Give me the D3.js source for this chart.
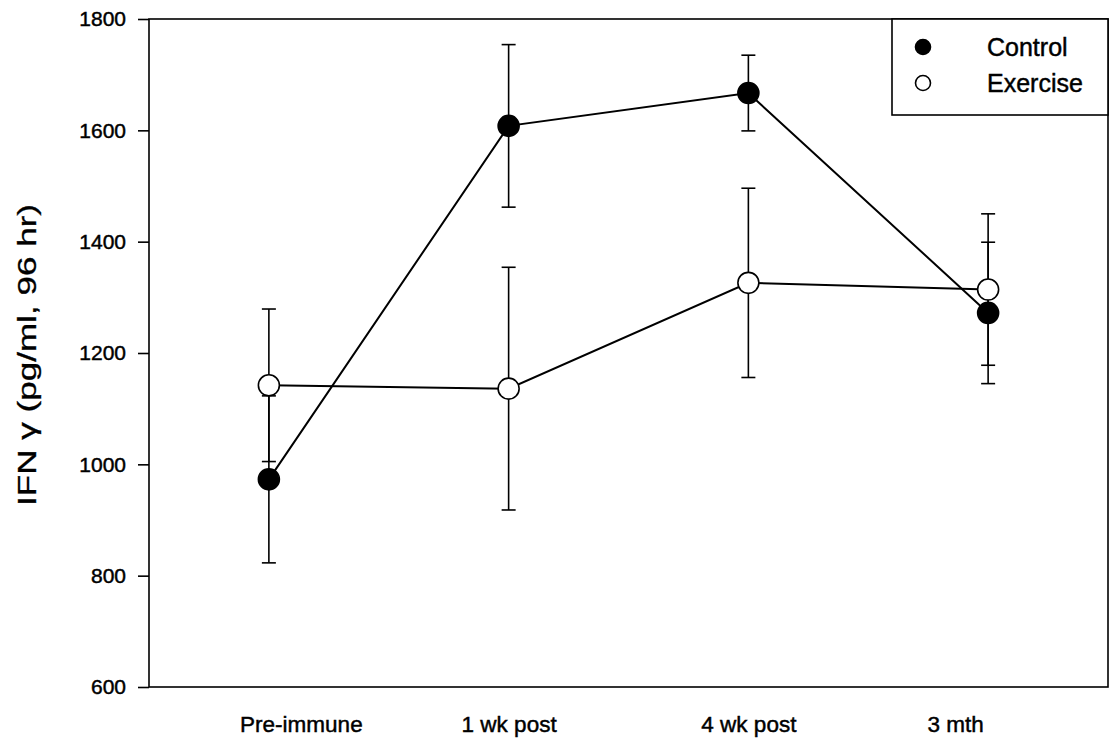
<!DOCTYPE html>
<html>
<head>
<meta charset="utf-8">
<script src="https://cdn.jsdelivr.net/npm/d3@7"></script>
<style>
  html, body { margin: 0; padding: 0; background: #fff; }
  svg { display: block; }
  text { font-family: "Liberation Sans", Arial, sans-serif; fill: #000; stroke: #000; stroke-width: 0.45px; }
</style>
</head>
<body>
<svg id="chart" width="1111" height="743"></svg>
<script>
// Time points on the x axis
const timepoints = ["Pre-immune", "1 wk post", "4 wk post", "3 mth"];

// IFN-gamma means and standard errors (pg/ml, 96 hr)
const controlMean = [973, 1608, 1667, 1272];
const controlErr  = [150, 146, 68, 127];
const exerciseMean = [1142, 1136, 1326, 1314];
const exerciseErr  = [137, 218, 170, 136];

const yTicks = [600, 800, 1000, 1200, 1400, 1600, 1800];
const legendLabels = ["Control", "Exercise"];

const svg = d3.select("#chart");

const frame = { left: 149, right: 1108, top: 19, bottom: 687 };

const x = d3.scalePoint()
  .domain(timepoints)
  .range([frame.left, frame.right])
  .padding(0.5);

const y = d3.scaleLinear()
  .domain([600, 1800])
  .range([frame.bottom, frame.top]);

// Frame around the plotting area
svg.append("rect")
  .attr("x", frame.left).attr("y", frame.top)
  .attr("width", frame.right - frame.left)
  .attr("height", frame.bottom - frame.top)
  .attr("fill", "none").attr("stroke", "#000").attr("stroke-width", 1.6);

// Y axis with outward ticks
const yAxis = d3.axisLeft(y).tickValues(yTicks).tickSize(11).tickPadding(12).tickFormat(d3.format("d"));
const gy = svg.append("g").attr("transform", `translate(${frame.left},0)`).call(yAxis);
gy.select(".domain").remove();
gy.selectAll(".tick line").attr("stroke", "#000").attr("stroke-width", 1.6);
gy.selectAll(".tick text")
  .style("font-family", "'Liberation Sans', Arial, sans-serif")
  .style("font-size", "21px").attr("fill", "#000");

// X axis category labels (no tick marks); the outer two labels sit a little inward
const labelNudge = { "Pre-immune": 32, "3 mth": -33 };
const xAxis = d3.axisBottom(x).tickSize(0).tickPadding(29);
const gx = svg.append("g").attr("transform", `translate(0,${frame.bottom})`).call(xAxis);
gx.select(".domain").remove();
gx.selectAll(".tick text")
  .attr("x", d => labelNudge[d] || 0)
  .style("font-family", "'Liberation Sans', Arial, sans-serif")
  .style("font-size", "22.5px").attr("fill", "#000");

// Y axis title (wide letterforms)
const title = svg.append("text")
  .attr("transform", `translate(36,${(frame.top + frame.bottom) / 2 + 2}) rotate(-90)`)
  .attr("text-anchor", "middle")
  .style("font-size", "25px")
  .style("stroke-width", "0.3px")
  .text("IFN γ (pg/ml, 96 hr)");
title.attr("textLength", 302).attr("lengthAdjust", "spacingAndGlyphs");

const series = [
  { name: "Control", mean: controlMean, err: controlErr, fill: "#000" },
  { name: "Exercise", mean: exerciseMean, err: exerciseErr, fill: "#fff" }
];

const line = d3.line()
  .x((d, i) => x(timepoints[i]))
  .y(d => y(d));

// Connecting lines
series.forEach(s => {
  svg.append("path")
    .datum(s.mean)
    .attr("d", line)
    .attr("fill", "none")
    .attr("stroke", "#000")
    .attr("stroke-width", 2);
});

// Error bars with caps
const capHalf = 7;
series.forEach(s => {
  const g = svg.append("g").attr("stroke", "#000").attr("stroke-width", 1.6);
  s.mean.forEach((m, i) => {
    const cx = x(timepoints[i]);
    const lo = y(m - s.err[i]), hi = y(m + s.err[i]);
    g.append("line").attr("x1", cx).attr("x2", cx).attr("y1", lo).attr("y2", hi);
    g.append("line").attr("x1", cx - capHalf).attr("x2", cx + capHalf).attr("y1", lo).attr("y2", lo);
    g.append("line").attr("x1", cx - capHalf).attr("x2", cx + capHalf).attr("y1", hi).attr("y2", hi);
  });
});

// Markers
series.forEach(s => {
  svg.append("g").selectAll("circle")
    .data(s.mean)
    .join("circle")
    .attr("cx", (d, i) => x(timepoints[i]))
    .attr("cy", d => y(d))
    .attr("r", 10.5)
    .attr("fill", s.fill)
    .attr("stroke", "#000")
    .attr("stroke-width", 1.6);
});

// Legend
const legend = svg.append("g");
legend.append("rect")
  .attr("x", 892).attr("y", frame.top)
  .attr("width", frame.right - 892).attr("height", 115 - frame.top)
  .attr("fill", "#fff").attr("stroke", "#000").attr("stroke-width", 1.6);

legendLabels.forEach((lab, i) => {
  const s = series[i];
  const ly = 47 + i * 36;
  legend.append("circle")
    .attr("cx", 923).attr("cy", ly)
    .attr("r", 7.5)
    .attr("fill", s.fill).attr("stroke", "#000").attr("stroke-width", 1.6);
  legend.append("text")
    .attr("x", 987).attr("y", ly)
    .attr("dy", "0.35em")
    .style("font-size", "25px")
    .text(lab);
});
</script>
</body>
</html>
